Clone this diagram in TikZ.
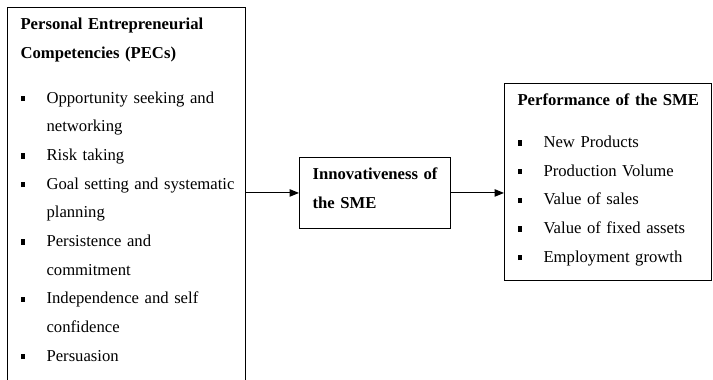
\documentclass[tikz,border=0pt]{standalone}
\usepackage{fontspec}
\setmainfont{Liberation Serif}
\usetikzlibrary{arrows.meta}
\newcommand{\sqbul}{\rule[1.5pt]{3.4pt}{3.9pt}}
\newcommand{\bitem}[1]{\mbox{\makebox[19.5pt][l]{\sqbul}#1}}
\newcommand{\bcont}[1]{\mbox{\hspace*{19.5pt}#1}}
\newcommand{\btitle}[1]{\mbox{\textbf{#1}}}

\begin{document}
\begin{tikzpicture}[x=0.75pt, y=-0.75pt,
  box/.style={draw, line width=0.8pt, align=left, inner xsep=9.75pt, anchor=north west,
    font=\fontsize{12.5}{21.5}\selectfont},
  flow/.style={-{Triangle[length=7pt,width=5.5pt]}, line width=0.8pt}]
        \useasboundingbox (0,0) rectangle (713,379);
        \clip (0,0) rectangle (713,379);
        \node[box, text width=159pt, inner ysep=16pt, text height=0.5pt] (pecs) at (7,7)
          {\btitle{Personal Entrepreneurial}\\ \btitle{Competencies (PECs)}\\[12.25pt]
           \bitem{Opportunity seeking and}\\ \bcont{networking}\\
           \bitem{Risk taking}\\
           \bitem{Goal setting and systematic}\\ \bcont{planning}\\
           \bitem{Persistence and}\\ \bcont{commitment}\\
           \bitem{Independence and self}\\ \bcont{confidence}\\
           \bitem{Persuasion}};
        \node[box, text width=93.75pt, inner ysep=15pt, text height=1.5pt] (innov) at (299,157)
          {\btitle{Innovativeness of}\\ \btitle{the SME}};
        \node[box, text width=135.75pt, inner ysep=10.7pt, text height=5.8pt] (perf) at (504,83)
          {\btitle{Performance of the SME}\\[10pt]
           \bitem{New Products}\\
           \bitem{Production Volume}\\
           \bitem{Value of sales}\\
           \bitem{Value of fixed assets}\\
           \bitem{Employment growth}};
        \draw[flow] (pecs.east |- innov.west)--(innov.west);
        \draw[flow] (innov.east)--(innov.east -| perf.west);
\end{tikzpicture}
\end{document}
